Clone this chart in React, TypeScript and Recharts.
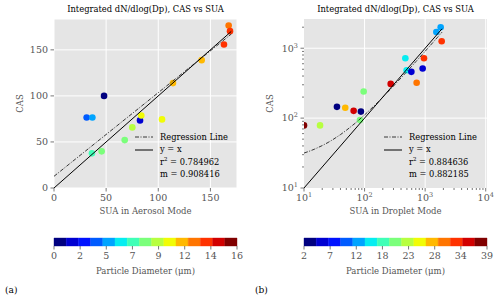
import {
  ScatterChart,
  Scatter,
  XAxis,
  YAxis,
  CartesianGrid,
  ReferenceLine,
  ReferenceArea,
} from "recharts";

const FONT = '"DejaVu Serif", serif';
const GREY = "#555555";
const BG = "#e5e5e5";

// discrete jet, 15 levels
const JET15 = [
  "#000080", "#0000d2", "#0012ff", "#005bff", "#00a4ff",
  "#06edf1", "#40ffb7", "#7bff7b", "#b7ff40", "#f1fc06",
  "#ffb900", "#ff7500", "#ff3200", "#d20000", "#800000",
];

// (a) aerosol mode
const aerosolSua = [48, 31.3, 36.8, 82.5, 83.7, 103.6, 75.1, 67.8, 36.4, 45.7, 114.1, 141.6, 163, 167.5, 168.8];
const aerosolCas = [100, 76.6, 76.6, 73.4, 78.8, 74.5, 65.8, 52, 37.6, 39.8, 113.9, 138.8, 155.8, 176.4, 170.3];
const aerosolDiam = [0.5, 3.7, 4.8, 1.6, 10.1, 10.1, 9.1, 8.0, 6.9, 8.0, 11.2, 11.2, 13.3, 12.3, 13.3];
const aerosolRange = [0, 16];
const aerosolBarLabels = ["0", "2", "5", "7", "9", "12", "14", "16"];
const aerosolFitX = [0, 170];
const aerosolSlope = 0.908416;
const aerosolIntercept = 12.7;
const aerosolR2 = "0.784962";

// (b) droplet mode
const dropletSua = [10, 18.4, 35, 48, 66, 87, 84, 96.6, 270, 471, 495, 592, 724, 910, 957, 1531, 1806, 1875];
const dropletCas = [78.6, 78.6, 145, 141, 127, 124, 93.6, 240, 309, 720, 485, 459, 320, 513, 720, 1710, 1995, 1259];
const dropletDiam = [37.8, 23.0, 3.2, 27.9, 35.3, 3.2, 20.5, 20.5, 35.3, 15.6, 15.6, 5.7, 30.4, 5.7, 32.8, 13.1, 13.1, 32.8];
const dropletRange = [2, 39];
const dropletBarLabels = ["2", "7", "12", "18", "23", "28", "34", "39"];
const dropletFitX = [10, 12, 15, 20, 25, 30, 40, 50, 70, 100, 150, 200, 300, 500, 700, 1000, 1400, 1900];
const dropletSlope = 0.882185;
const dropletIntercept = 22.8;
const dropletR2 = "0.884636";

const levelColor = (d: number, range: number[]) => {
  const k = Math.floor(((d - range[0]) / (range[1] - range[0])) * 15);
  return JET15[Math.max(0, Math.min(14, k))];
};

const toPoints = (xs: number[], ys: number[], ds: number[], range: number[]) =>
  xs.map((x, i) => ({ x, y: ys[i], fill: levelColor(ds[i], range) }));

const fitLine = (xs: number[], b: number, m: number) => xs.map((x) => ({ x, y: b + m * x }));
const identity = (xs: number[]) => [
  { x: xs[0], y: xs[0] },
  { x: xs[xs.length - 1], y: xs[xs.length - 1] },
];

const Dot = (p: any) => <circle cx={p.cx} cy={p.cy} r={3.3} fill={p.payload.fill} />;
const NoDot = () => <g />;

const sup = (n: number) => String(Math.round(Math.log10(n)));
const isMajor = (v: number) => Math.abs(Math.log10(v) - Math.round(Math.log10(v))) < 1e-6;

const XTick = (p: any) => {
  const v = p.payload.value;
  const log = p.log;
  const major = !log || isMajor(v);
  const len = major ? 3.5 : 2;
  return (
    <g>
      <line x1={p.x} x2={p.x} y1={p.y} y2={p.y + len} stroke={GREY} strokeWidth={0.8} />
      {major && (
        <text x={p.x} y={p.y + 5.5} dy="0.75em" textAnchor="middle" fill={GREY} fontSize={9.5} fontFamily={FONT}>
          {log ? (
            <>
              10<tspan dy={-4} fontSize={6.5}>{sup(v)}</tspan>
            </>
          ) : p.fmt ? p.fmt(v) : v}
        </text>
      )}
    </g>
  );
};

const YTick = (p: any) => {
  const v = p.payload.value;
  const log = p.log;
  const major = !log || isMajor(v);
  const len = major ? 3.5 : 2;
  return (
    <g>
      <line x1={p.x} x2={p.x - len} y1={p.y} y2={p.y} stroke={GREY} strokeWidth={0.8} />
      {major && (
        <text x={p.x - 6} y={p.y} dy="0.35em" textAnchor="end" fill={GREY} fontSize={9.5} fontFamily={FONT}>
          {log ? (
            <>
              10<tspan dy={-4} fontSize={6.5}>{sup(v)}</tspan>
            </>
          ) : v}
        </text>
      )}
    </g>
  );
};

const logTicks = (lo: number, hi: number) => {
  const out: number[] = [];
  for (let e = 1; e <= 4; e++) {
    for (let k = 1; k <= 9; k++) {
      const v = k * Math.pow(10, e);
      if (v >= lo && v <= hi) out.push(v);
    }
  }
  return out;
};

function FitLegend({ left, top, r2, m }: { left: number; top: number; r2: string; m: string }) {
  const row = { display: "flex", alignItems: "center", height: 12.4 } as const;
  return (
    <div style={{ position: "absolute", left, top, fontFamily: FONT, fontSize: 8.3, color: "#000", lineHeight: "12.4px" }}>
      <div style={row}>
        <svg width={18} height={4}>
          <line x1={0} y1={2} x2={18} y2={2} stroke="#222" strokeWidth={0.9} strokeDasharray="4 1.5 1 1.5" />
        </svg>
        <span style={{ marginLeft: 7 }}>Regression Line</span>
      </div>
      <div style={row}>
        <svg width={18} height={4}>
          <line x1={0} y1={2} x2={18} y2={2} stroke="#000" strokeWidth={1} />
        </svg>
        <span style={{ marginLeft: 7 }}>y = x</span>
      </div>
      <div style={{ ...row, marginLeft: 25 }}>
        r<span style={{ fontSize: 5.5, position: "relative", top: -3 }}>2</span>&nbsp;= {r2}
      </div>
      <div style={{ ...row, marginLeft: 25 }}>m = {m}</div>
    </div>
  );
}

// colour bar: 15 levels on a 0..15 index axis, 8 evenly spaced labels
function ColorBar({ labels }: { labels: string[] }) {
  const n = JET15.length;
  const step = n / (labels.length - 1);
  const tickPos = labels.map((_, i) => i * step);
  return (
    <ScatterChart width={250} height={64} margin={{ top: 8, right: 13, bottom: 0, left: 54 }}>
      <XAxis
        type="number"
        dataKey="x"
        domain={[0, n]}
        ticks={tickPos}
        interval={0}
        allowDataOverflow
        axisLine={false}
        tickLine={false}
        tickSize={0}
        tickMargin={0}
        height={48}
        tick={(p: any) => <XTick {...p} fmt={(v: number) => labels[Math.round(v / step)]} />}
        label={{ value: "Particle Diameter (μm)", position: "insideTop", offset: 22, fill: GREY, fontSize: 8.5, fontFamily: FONT }}
      />
      <YAxis type="number" dataKey="y" hide domain={[0, 1]} allowDataOverflow />
      {JET15.map((c, i) => (
        <ReferenceArea key={i} x1={i} x2={i + 1} y1={0} y2={1} fill={c} fillOpacity={1} stroke={c} strokeWidth={0.4} ifOverflow="extendDomain" />
      ))}
    </ScatterChart>
  );
}

const Title = () => (
  <div style={{ position: "absolute", left: 54, top: 4, width: 183, textAlign: "center", fontFamily: FONT, fontSize: 8.4, color: "#000", lineHeight: "11px", whiteSpace: "nowrap" }}>
    Integrated dN/dlog(Dp), CAS vs SUA
  </div>
);

function AerosolPanel() {
  const pts = toPoints(aerosolSua, aerosolCas, aerosolDiam, aerosolRange);
  return (
    <ScatterChart width={250} height={230} margin={{ top: 19, right: 13, bottom: 0, left: 0 }}>
      <CartesianGrid fill={BG} stroke="#ffffff" strokeWidth={1} />
      <XAxis
        type="number"
        dataKey="x"
        domain={[0, 175.5]}
        ticks={[0, 50, 100, 150]}
        allowDataOverflow
        axisLine={false}
        tickLine={false}
        tickSize={0}
        tickMargin={0}
        height={42}
        tick={(p: any) => <XTick {...p} />}
        label={{ value: "SUA in Aerosol Mode", position: "insideTop", offset: 20, fill: GREY, fontSize: 8.5, fontFamily: FONT }}
      />
      <YAxis
        type="number"
        dataKey="y"
        domain={[0, 183.5]}
        ticks={[0, 50, 100, 150]}
        allowDataOverflow
        axisLine={false}
        tickLine={false}
        tickSize={0}
        tickMargin={0}
        width={54}
        tick={(p: any) => <YTick {...p} />}
        label={{ value: "CAS", angle: -90, position: "insideLeft", offset: 20, fill: GREY, fontSize: 8.5, fontFamily: FONT, textAnchor: "middle" }}
      />
      <Scatter data={pts} shape={Dot} isAnimationActive={false} />
      <Scatter
        data={fitLine(aerosolFitX, aerosolIntercept, aerosolSlope)}
        line={{ stroke: "#222", strokeWidth: 0.9, strokeDasharray: "4 1.5 1 1.5" }}
        shape={NoDot}
        isAnimationActive={false}
      />
      <Scatter data={identity(aerosolFitX)} line={{ stroke: "#000", strokeWidth: 1 }} shape={NoDot} isAnimationActive={false} />
    </ScatterChart>
  );
}

function DropletPanel() {
  const pts = toPoints(dropletSua, dropletCas, dropletDiam, dropletRange);
  const xDomain = [10, 10500];
  const yDomain = [10, 2620];
  return (
    <ScatterChart width={250} height={230} margin={{ top: 19, right: 13, bottom: 0, left: 0 }}>
      <CartesianGrid fill={BG} horizontal={false} vertical={false} />
      <ReferenceLine x={100} stroke="#fff" strokeWidth={1} />
      <ReferenceLine x={1000} stroke="#fff" strokeWidth={1} />
      <ReferenceLine x={10000} stroke="#fff" strokeWidth={1} />
      <ReferenceLine y={100} stroke="#fff" strokeWidth={1} />
      <ReferenceLine y={1000} stroke="#fff" strokeWidth={1} />
      <XAxis
        type="number"
        dataKey="x"
        scale="log"
        domain={xDomain}
        ticks={logTicks(xDomain[0], xDomain[1])}
        interval={0}
        allowDataOverflow
        axisLine={false}
        tickLine={false}
        tickSize={0}
        tickMargin={0}
        height={42}
        tick={(p: any) => <XTick {...p} log />}
        label={{ value: "SUA in Droplet Mode", position: "insideTop", offset: 20, fill: GREY, fontSize: 8.5, fontFamily: FONT }}
      />
      <YAxis
        type="number"
        dataKey="y"
        scale="log"
        domain={yDomain}
        ticks={logTicks(yDomain[0], yDomain[1])}
        interval={0}
        allowDataOverflow
        axisLine={false}
        tickLine={false}
        tickSize={0}
        tickMargin={0}
        width={54}
        tick={(p: any) => <YTick {...p} log />}
        label={{ value: "CAS", angle: -90, position: "insideLeft", offset: 20, fill: GREY, fontSize: 8.5, fontFamily: FONT, textAnchor: "middle" }}
      />
      <Scatter data={pts} shape={Dot} isAnimationActive={false} />
      <Scatter
        data={fitLine(dropletFitX, dropletIntercept, dropletSlope)}
        line={{ stroke: "#222", strokeWidth: 0.9, strokeDasharray: "4 1.5 1 1.5" }}
        shape={NoDot}
        isAnimationActive={false}
      />
      <Scatter data={identity(dropletFitX)} line={{ stroke: "#000", strokeWidth: 1 }} shape={NoDot} isAnimationActive={false} />
    </ScatterChart>
  );
}

export default function App() {
  return (
    <div style={{ position: "absolute", left: 0, top: 0, width: 500, height: 303, background: "#fff", overflow: "hidden" }}>
      <div style={{ position: "absolute", left: 0, top: 0 }}>
        <AerosolPanel />
      </div>
      <Title />
      <FitLegend left={135} top={131} r2={aerosolR2} m={aerosolSlope.toFixed(6)} />
      <div style={{ position: "absolute", left: 0, top: 230 }}>
        <ColorBar labels={aerosolBarLabels} />
      </div>
      <div style={{ position: "absolute", left: 5, top: 285, fontFamily: FONT, fontSize: 9, color: "#000" }}>(a)</div>

      <div style={{ position: "absolute", left: 250, top: 0 }}>
        <DropletPanel />
      </div>
      <div style={{ position: "absolute", left: 250, top: 0, width: 250, height: 20 }}>
        <Title />
      </div>
      <FitLegend left={384} top={131} r2={dropletR2} m={dropletSlope.toFixed(6)} />
      <div style={{ position: "absolute", left: 250, top: 230 }}>
        <ColorBar labels={dropletBarLabels} />
      </div>
      <div style={{ position: "absolute", left: 255, top: 285, fontFamily: FONT, fontSize: 9, color: "#000" }}>(b)</div>
    </div>
  );
}
